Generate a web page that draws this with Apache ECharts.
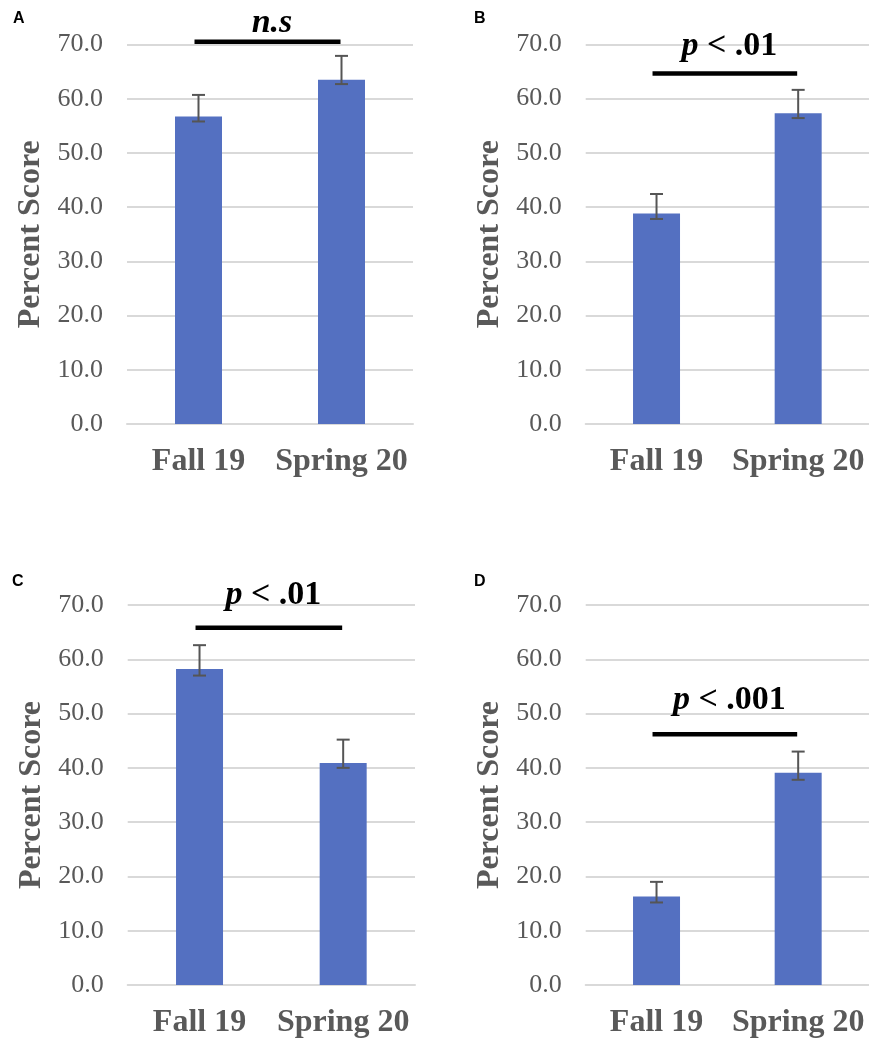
<!DOCTYPE html>
<html>
<head>
<meta charset="utf-8">
<script src="https://cdn.jsdelivr.net/npm/echarts@6/dist/echarts.min.js"></script>
<style>
html,body{margin:0;padding:0;background:#fff;}
#chart{width:869px;height:1043px;}
</style>
</head>
<body>
<div id="chart"></div>
<script>
// ---- data ----
var categories = ['Fall 19', 'Spring 20'];
var yTicks = [0, 10, 20, 30, 40, 50, 60, 70];
var panelLabels = ['A', 'B', 'C', 'D'];

var meanA = [56.7, 63.5];
var lowA  = [55.8, 62.7];
var highA = [60.7, 67.9];

var meanB = [38.8, 57.3];
var lowB  = [37.8, 56.4];
var highB = [42.4, 61.6];

var meanC = [58.2, 40.9];
var lowC  = [57.0, 40.0];
var highC = [62.6, 45.2];

var meanD = [16.3, 39.1];
var lowD  = [15.2, 37.8];
var highD = [19.0, 43.0];

var sigText  = ['{i|n.s}', '{i|p} < .01', '{i|p} < .01', '{i|p} < .001'];
var sigLineY = [70.5, 64.6, 65.8, 46.2];
var sigTextY = [73.9, 69.6, 71.8, 52.5];

// ---- layout ----
var means = [meanA, meanB, meanC, meanD];
var lows = [lowA, lowB, lowC, lowD];
var highs = [highA, highB, highC, highD];

var grids = [
  {left: 127, top: 44.5, width: 286, height: 379.5},
  {left: 585.7, top: 44.3, width: 284.5, height: 379.7},
  {left: 127.7, top: 605, width: 287.3, height: 380},
  {left: 585.7, top: 605, width: 284.5, height: 380}
];
var labelPos = [[20, 20], [481, 20], [19, 583], [481, 583]];

var gray = '#595959';
var barColor = '#5470c1';
var serif = '"Liberation Serif", "Times New Roman", serif';

var xAxes = [], yAxes = [], series = [], graphics = [];
for (var p = 0; p < 4; p++) {
  xAxes.push({
    type: 'category', gridIndex: p, data: categories,
    axisLine: {show: true, lineStyle: {color: '#d9d9d9', width: 2}},
    axisTick: {show: false},
    axisLabel: {interval: 0, hideOverlap: false, color: gray, fontFamily: serif, fontWeight: 'bold', fontSize: 32, margin: 22}
  });
  yAxes.push({
    type: 'value', gridIndex: p, min: yTicks[0], max: yTicks[yTicks.length - 1], interval: 10,
    name: 'Percent Score', nameLocation: 'middle', nameGap: 80,
    nameTextStyle: {color: gray, fontFamily: serif, fontWeight: 'bold', fontSize: 32},
    axisLine: {show: false}, axisTick: {show: false},
    axisLabel: {color: gray, fontFamily: serif, fontSize: 26, margin: 24,
      formatter: function (v) { return v.toFixed(1); }},
    splitLine: {show: true, lineStyle: {color: '#d9d9d9', width: 2}}
  });
  series.push({
    type: 'bar', xAxisIndex: p, yAxisIndex: p, data: means[p],
    barWidth: 47, itemStyle: {color: barColor}, silent: true
  });
  (function (pi) {
    series.push({
      type: 'custom', xAxisIndex: pi, yAxisIndex: pi,
      data: categories.map(function (c, i) { return [i, lows[pi][i], highs[pi][i]]; }),
      renderItem: function (params, api) {
        var i = api.value(0);
        var lo = api.coord([i, api.value(1)]);
        var hi = api.coord([i, api.value(2)]);
        var hw = 6.5;
        var st = {stroke: '#555555', lineWidth: 2};
        return {type: 'group', children: [
          {type: 'line', shape: {x1: lo[0], y1: lo[1], x2: hi[0], y2: hi[1]}, style: st},
          {type: 'line', shape: {x1: lo[0] - hw, y1: lo[1], x2: lo[0] + hw, y2: lo[1]}, style: st},
          {type: 'line', shape: {x1: hi[0] - hw, y1: hi[1], x2: hi[0] + hw, y2: hi[1]}, style: st}
        ]};
      },
      z: 5, silent: true
    });
    series.push({
      type: 'custom', xAxisIndex: pi, yAxisIndex: pi,
      data: [[0, sigLineY[pi], sigTextY[pi]]],
      clip: false,
      renderItem: function (params, api) {
        var a = api.coord([0, api.value(1)]);
        var b = api.coord([1, api.value(1)]);
        var t = api.coord([0, api.value(2)]);
        var mx = (a[0] + b[0]) / 2;
        return {type: 'group', children: [
          {type: 'line', shape: {x1: a[0] - 4, y1: a[1], x2: b[0] - 1, y2: b[1]},
            style: {stroke: '#000', lineWidth: 4.5}},
          {type: 'text', x: mx + 2, y: t[1], style: {
            text: sigText[pi], align: 'center', verticalAlign: 'middle',
            fill: '#000', font: 'bold 34px ' + serif,
            rich: {i: {fontStyle: 'italic', fontWeight: 'bold', fontSize: 34, fontFamily: serif, fill: '#000'}}
          }}
        ]};
      },
      z: 6, silent: true
    });
  })(p);
  graphics.push({
    type: 'text', left: labelPos[p][0] - 7, top: labelPos[p][1] - 9,
    style: {text: panelLabels[p], font: 'bold 16px "Liberation Sans", Arial, sans-serif', fill: '#000'}
  });
}

var chart = echarts.init(document.getElementById('chart'), null, {renderer: 'canvas'});
chart.setOption({
  animation: false,
  backgroundColor: '#fff',
  grid: grids,
  xAxis: xAxes,
  yAxis: yAxes,
  series: series,
  graphic: graphics
});
</script>
</body>
</html>
